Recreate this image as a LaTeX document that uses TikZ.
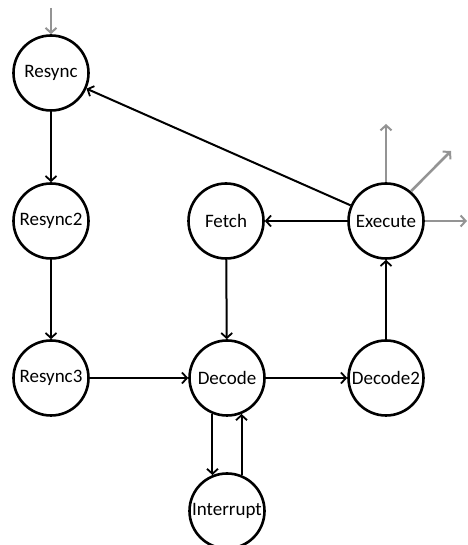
\documentclass[tikz,border=0pt]{standalone}
\usepackage{fontspec}
\setmainfont{Carlito}
\usetikzlibrary{arrows.meta}
\begin{document}
\begin{tikzpicture}[x=1pt,y=1pt,
  state/.style={circle,draw=black,line width=2.6pt,fill=white,minimum size=75pt,inner sep=0pt,font=\fontsize{19}{22}\selectfont},
  edge/.style={line width=2pt,draw=black,-{Straight Barb[length=5pt,width=11pt,line width=1.8pt]}},
  outedge/.style={line width=2.6pt,draw=black!42,-{Straight Barb[length=5pt,width=11pt,line width=2pt]}}]
  \useasboundingbox (0,0) rectangle (467,545);
  % states
  \node[state] (resync)    at (51,472) {Resync};
  \node[state] (resync2)   at (51,324) {Resync2};
  \node[state] (resync3)   at (51,167) {Resync3};
  \node[state] (fetch)     at (226,324) {Fetch};
  \node[state] (execute)   at (386,324) {Execute};
  \node[state] (decode)    at (227,167) {Decode};
  \node[state] (decode2)   at (386,167) {Decode2};
  \node[state] (interrupt) at (227,34) {Interrupt};
  % free ends of the grey arrows
  \coordinate (entry) at (51,537);
  \coordinate (outup) at (386,421);
  \coordinate (outdiag) at (451,394);
  \coordinate (outright) at (467,324);
  % transitions
  \draw[edge] (resync) -- (resync2);
  \draw[edge] (resync2) -- (resync3);
  \draw[edge] (resync3) -- (decode);
  \draw[edge] (fetch) -- (decode);
  \draw[edge] (decode) -- (decode2);
  \draw[edge] (decode2) -- (execute);
  \draw[edge] (execute) -- (fetch);
  \draw[edge] (execute) -- (resync);
  \draw[edge] (decode.-112) -- (interrupt.112);
  \draw[edge] (interrupt.68) -- (decode.-68);
  % entry and exits
  \draw[outedge] (entry) -- (resync);
  \draw[outedge] (execute.90) -- (outup);
  \draw[outedge] (execute.50) -- (outdiag);
  \draw[outedge] (execute.0) -- (outright);
\end{tikzpicture}
\end{document}
